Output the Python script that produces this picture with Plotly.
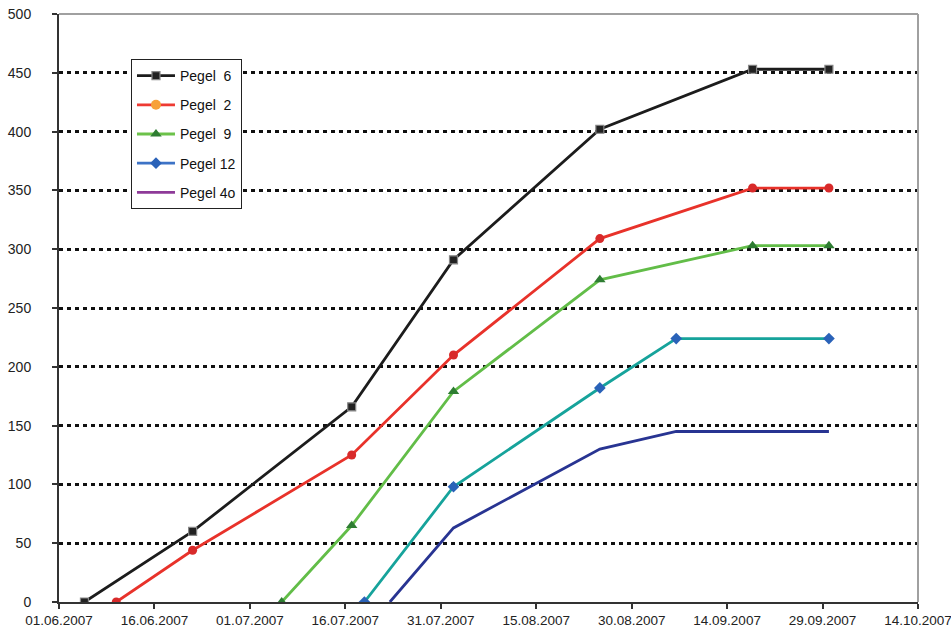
import plotly.graph_objects as go

# ---- data ----
p6_dates = ["2007-06-05", "2007-06-22", "2007-07-17", "2007-08-02", "2007-08-25", "2007-09-18", "2007-09-30"]
p6_vals = [0, 60, 166, 291, 402, 453, 453]

p2_dates = ["2007-06-10", "2007-06-22", "2007-07-17", "2007-08-02", "2007-08-25", "2007-09-18", "2007-09-30"]
p2_vals = [0, 44, 125, 210, 309, 352, 352]

p9_dates = ["2007-07-06", "2007-07-17", "2007-08-02", "2007-08-25", "2007-09-18", "2007-09-30"]
p9_vals = [0, 65, 179, 274, 303, 303]

p12_dates = ["2007-07-19", "2007-08-02", "2007-08-25", "2007-09-06", "2007-09-30"]
p12_vals = [0, 98, 182, 224, 224]

p4o_dates = ["2007-07-23", "2007-08-02", "2007-08-25", "2007-09-06", "2007-09-30"]
p4o_vals = [0, 63, 130, 145, 145]

legend_names = ["Pegel\u00a0\u00a06", "Pegel\u00a0\u00a02", "Pegel\u00a0\u00a09", "Pegel 12", "Pegel 4o"]
x_range = ["2007-06-01", "2007-10-14"]
y_ticks = [0, 50, 100, 150, 200, 250, 300, 350, 400, 450, 500]

FONT = "Liberation Sans, Arial, sans-serif"

fig = go.Figure()

# data traces (as drawn in the chart)
series = [
    (p4o_dates, p4o_vals, "#283492", None, None, None),
    (p12_dates, p12_vals, "#16a39b", "diamond", "#2a62b8", 9),
    (p9_dates, p9_vals, "#62bd48", "triangle-up", "#2e7d32", 10),
    (p2_dates, p2_vals, "#e8322a", "circle", "#d82a2a", 9),
    (p6_dates, p6_vals, "#1c1c1c", "square", "#222222", 8),
]
for d, v, lc, sym, mc, ms in series:
    if sym is None:
        fig.add_trace(go.Scatter(x=d, y=v, mode="lines", line=dict(color=lc, width=2.8),
                                 showlegend=False, hoverinfo="skip"))
    else:
        mline = dict(color="#888888", width=1.2) if sym == "square" else dict(width=0)
        fig.add_trace(go.Scatter(x=d, y=v, mode="lines+markers", line=dict(color=lc, width=2.8),
                                 marker=dict(symbol=sym, color=mc, size=ms, line=mline),
                                 showlegend=False, hoverinfo="skip"))

# legend entries (legend styling of the original)
leg_styles = [
    ("#1c1c1c", "square", "#222222", 8, dict(color="#888888", width=1.2)),
    ("#ee3a33", "circle", "#f7a13a", 10, dict(width=0)),
    ("#6cc24a", "triangle-up", "#2e7d32", 10, dict(width=0)),
    ("#3d73c6", "diamond", "#2a62b8", 9, dict(width=0)),
    ("#8e3a98", None, None, None, None),
]
for i, (name, (lc, sym, mc, ms, ml)) in enumerate(zip(legend_names, leg_styles)):
    if sym is None:
        fig.add_trace(go.Scatter(x=[None], y=[None], mode="lines", name=name,
                                 line=dict(color=lc, width=2.8), legendgroup=f"g{i}"))
    else:
        fig.add_trace(go.Scatter(x=[None], y=[None], mode="lines+markers", name=name,
                                 line=dict(color=lc, width=2.8),
                                 marker=dict(symbol=sym, color=mc, size=ms, line=ml),
                                 legendgroup=f"g{i}"))

# frame lines on top and right (grey)
fig.add_shape(type="line", xref="paper", yref="paper", x0=0, x1=1, y0=1, y1=1,
              line=dict(color="#a0a0a0", width=2), layer="above")
fig.add_shape(type="line", xref="paper", yref="paper", x0=1, x1=1, y0=0, y1=1,
              line=dict(color="#a0a0a0", width=2), layer="above")

fig.update_layout(
    width=951, height=630,
    margin=dict(l=59, r=33, t=14, b=28),
    paper_bgcolor="white", plot_bgcolor="white",
    font=dict(family=FONT, size=13, color="#222222"),
    showlegend=True,
    legend=dict(x=0.0838, y=0.9235, xanchor="left", yanchor="top",
                bgcolor="white", bordercolor="#222222", borderwidth=1,
                font=dict(family=FONT, size=14, color="#111111"),
                tracegroupgap=8, traceorder="grouped", itemwidth=38),
    xaxis=dict(type="date", range=x_range, tick0="2007-06-01", dtick=15 * 86400000,
               tickformat="%d.%m.%Y", showgrid=False, zeroline=False, automargin=False,
               showline=True, linecolor="#333333", linewidth=2,
               ticks="outside", ticklen=5, tickcolor="#333333", tickwidth=1.5,
               ticklabeloverflow="allow", tickfont=dict(size=13.5)),
    yaxis=dict(range=[0, 500], tickvals=y_ticks, showgrid=True, gridcolor="#111111",
               gridwidth=2.5, griddash="4px,4px", zeroline=False, automargin=False,
               showline=True, linecolor="#333333", linewidth=2,
               ticks="outside", ticklen=5, tickcolor="#333333", tickwidth=1.5,
               ticklabelstandoff=18, tickfont=dict(size=14)),
)

fig.write_html("out.html", config={"displayModeBar": False},
               post_script="document.body.style.margin='0';")
